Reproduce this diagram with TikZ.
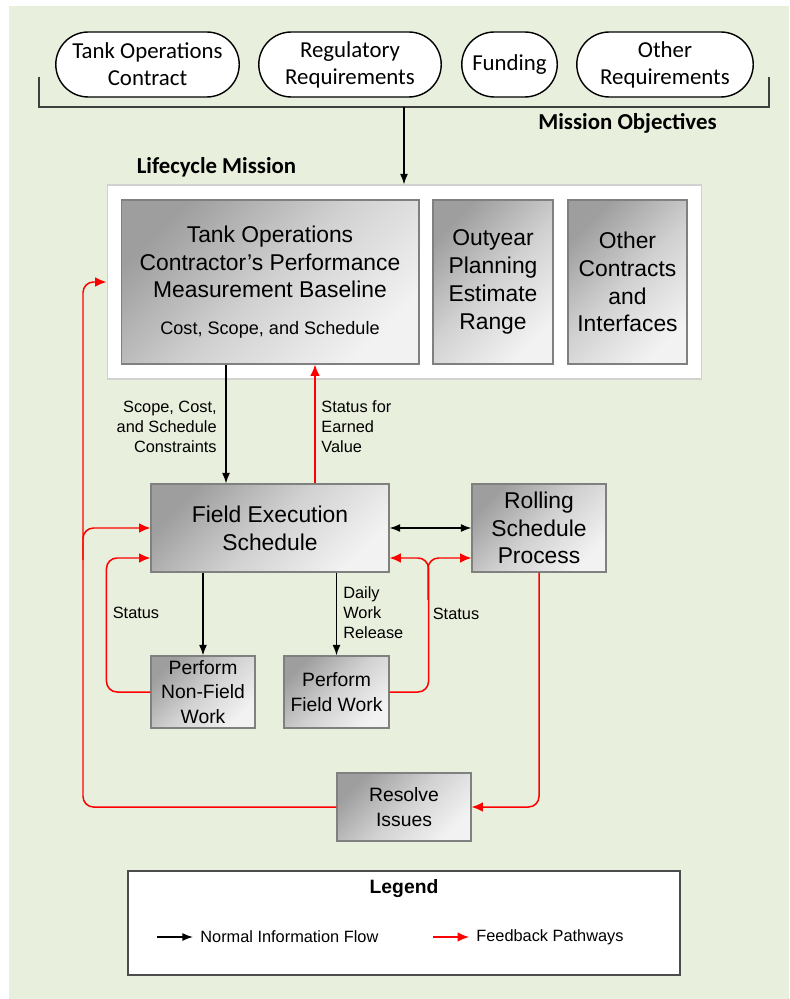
\documentclass[tikz,border=0pt]{standalone}
\usepackage{fontspec}
\setmainfont{Liberation Sans}
\newfontfamily\calibri{Carlito}
\usepackage{tikz}
\usetikzlibrary{arrows.meta,shapes.misc,positioning,calc}
\definecolor{panelgreen}{RGB}{233,239,221}
\definecolor{boxedge}{RGB}{128,128,128}
\definecolor{bracketgray}{RGB}{64,64,64}

\begin{document}
\begin{tikzpicture}[x=0.02cm, y=-0.02cm,
    objective/.style={rounded rectangle, draw=black, line width=0.8pt, fill=white,
      minimum height=1.3cm, align=center, inner sep=1pt,
      font=\calibri\fontsize{13}{15.3}\selectfont},
    mainbox/.style={rectangle, draw=boxedge, line width=0.6pt,
      top color=black!38, bottom color=black!5, middle color=black!18, shading angle=45,
      align=center, inner sep=0pt, font=\fontsize{13}{15.8}\selectfont},
    smallbox/.style={mainbox, font=\fontsize{11}{13.9}\selectfont},
    flowlabel/.style={inner sep=0pt, font=\fontsize{9.3}{11.3}\selectfont},
    heading/.style={font=\calibri\bfseries\fontsize{13}{15}\selectfont},
    flow/.style={-{Latex[length=6pt,width=4.5pt]}, line width=0.8pt, black},
    flowboth/.style={{Latex[length=6pt,width=4.5pt]}-{Latex[length=6pt,width=4.5pt]}, line width=0.8pt, black},
    feedback/.style={-{Latex[length=6.5pt,width=5.5pt]}, line width=0.85pt, red, rounded corners=6pt}]
  \useasboundingbox (0,0) rectangle (789,999);
  \fill[panelgreen] (9,6) rectangle (789,999);

  % mission objectives
  \node[objective, minimum width=3.74cm] (tankcontract) at (147.5,64.5) {Tank Operations\\Contract};
  \node[objective, minimum width=3.72cm] (regulatory) at (350,64.5) {Regulatory\\Requirements};
  \node[objective, minimum width=1.98cm] (funding) at (509.5,64.5) {Funding};
  \node[objective, minimum width=3.6cm] (otherreq) at (665,64.5) {Other\\Requirements};
  \draw[bracketgray, line width=0.8pt] (39,77) -- (39,107) -- (769,107) -- (769,77);
  \coordinate (objectives) at (404,107);
  \node[heading] (missionlbl) at (627.5,123) {Mission Objectives};
  \node[heading] (lifecyclelbl) at (216.5,167) {Lifecycle Mission};

  % lifecycle mission
  \node[draw=black!18, fill=white, line width=0.6pt, minimum width=11.9cm, minimum height=3.88cm] (lifecycle) at (404.5,282) {};
  \node[mainbox, minimum width=5.96cm, minimum height=3.28cm] (pmb) at (270,282)
    {Tank Operations\\Contractor’s Performance\\Measurement Baseline\\[5pt]{\fontsize{10.3}{12}\selectfont Cost, Scope, and Schedule}};
  \node[mainbox, minimum width=2.4cm, minimum height=3.28cm] (outyear) at (493,282) {Outyear\\Planning\\Estimate\\Range};
  \node[mainbox, minimum width=2.38cm, minimum height=3.28cm] (othercontracts) at (627.5,282) {Other\\Contracts\\and\\Interfaces};

  % execution
  \node[mainbox, minimum width=4.76cm, minimum height=1.76cm] (fes) at (270,528) {Field Execution\\Schedule};
  \node[mainbox, minimum width=2.68cm, minimum height=1.76cm] (rsp) at (539,528) {Rolling\\Schedule\\Process};
  \node[smallbox, minimum width=2.08cm, minimum height=1.44cm] (nonfield) at (203,692) {Perform\\Non-Field\\Work};
  \node[smallbox, minimum width=2.1cm, minimum height=1.44cm] (fieldwork) at (336.5,692) {Perform\\Field Work};
  \node[smallbox, minimum width=2.68cm, minimum height=1.36cm] (resolve) at (404,807) {Resolve\\Issues};

  \node[flowlabel, anchor=east, align=right] (constraintslbl) at (217,427) {Scope, Cost,\\and Schedule\\Constraints};
  \node[flowlabel, anchor=west, align=left] (earnedlbl) at (321,427) {Status for\\Earned\\Value};
  \node[flowlabel, anchor=west, align=left] (releaselbl) at (343,613) {Daily\\Work\\Release};
  \node[flowlabel] (statusleft) at (136,613) {Status};
  \node[flowlabel] (statusright) at (456,614) {Status};

  % normal flow
  \draw[flow] (objectives) -- (objectives |- lifecycle.north);
  \draw[flow] ([xshift=-0.88cm]pmb.south) -- ([xshift=-0.88cm]fes.north);
  \draw[flowboth] (fes.east) -- (rsp.west);
  \draw[flow] (fes.south -| nonfield.north) -- (nonfield.north);
  \draw[flow] (fes.south -| fieldwork.north) -- (fieldwork.north);

  % feedback
  \draw[feedback] ([xshift=0.9cm]fes.north) -- ([xshift=0.9cm]pmb.south);
  \draw[feedback] (nonfield.west) -- ++(-44,0) |- ([yshift=-0.6cm]fes.west);
  \draw[feedback] (fieldwork.east) -- ++(39,0) |- ([yshift=-0.6cm]fes.east);
  \coordinate (statusjoin) at (428,600);
  \draw[feedback] (statusjoin) |- ([yshift=-0.6cm]rsp.west);
  \draw[feedback] (rsp.south) |- (resolve.east);
  \coordinate (returnline) at (83,282);
  \draw[feedback] (resolve.west) -| (returnline) -- (lifecycle.west);
  \coordinate (returnjoin) at (83,560);
  \draw[feedback] (returnjoin) |- (fes.west);

  % legend
  \node[draw=black!70, fill=white, line width=0.8pt, minimum width=11.04cm, minimum height=2.08cm] (legend) at (404,923) {};
  \node[font=\bfseries\fontsize{11}{13}\selectfont] (legendtitle) at (404,889) {Legend};
  \node[flowlabel, anchor=west, inner sep=4pt] (normallbl) at (193,937) {Normal Information Flow};
  \node[flowlabel, anchor=west, inner sep=4pt] (feedbacklbl) at (469,937) {Feedback Pathways};
  \draw[flow] ([xshift=-0.72cm]normallbl.west) -- (normallbl.west);
  \draw[feedback] ([xshift=-0.72cm]feedbacklbl.west) -- (feedbacklbl.west);
\end{tikzpicture}
\end{document}
